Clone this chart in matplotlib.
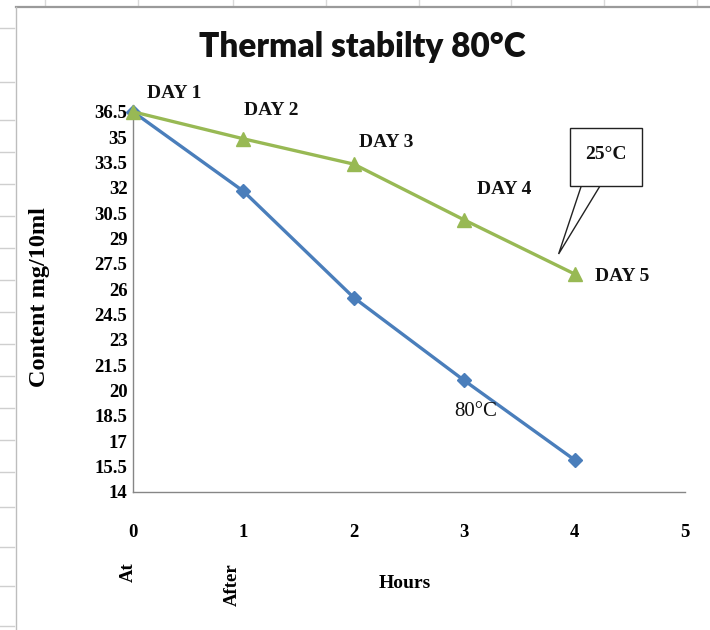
import matplotlib
matplotlib.use("Agg")
import matplotlib.pyplot as plt
from matplotlib.lines import Line2D
from matplotlib.patches import Polygon, Rectangle
from matplotlib.transforms import IdentityTransform

# ---- data -------------------------------------------------------------
hours = [0, 1, 2, 3, 4]
content_25c = [36.5, 34.9, 33.4, 30.1, 26.9]
content_80c = [36.5, 31.8, 25.5, 20.6, 15.9]
day_labels = ["DAY 1", "DAY 2", "DAY 3", "DAY 4", "DAY 5"]

y_ticks = [14, 15.5, 17, 18.5, 20, 21.5, 23, 24.5, 26, 27.5, 29, 30.5, 32, 33.5, 35, 36.5]
y_tick_labels = ["14", "15.5", "17", "18.5", "20", "21.5", "23", "24.5", "26",
                 "27.5", "29", "30.5", "32", "33.5", "35", "36.5"]
x_ticks = [0, 1, 2, 3, 4, 5]
x_tick_labels = ["0", "1", "2", "3", "4", "5"]

# ---- styling ----------------------------------------------------------
W, H = 710, 630
BLUE = "#4A7EBB"
GREEN = "#98B954"
SERIF = ["Liberation Serif", "DejaVu Serif"]
TITLE_FONT = ["Lato", "DejaVu Sans"]


def fx(px):
    return px / W


def fy(py):
    return 1 - py / H


fig = plt.figure(figsize=(W / 100, H / 100), dpi=100)
fig.patch.set_facecolor("white")

# spreadsheet cell grid peeking around the chart frame
for gx in [45, 138, 233, 326, 419, 511, 604, 697]:
    fig.add_artist(Line2D([fx(gx), fx(gx)], [fy(0), fy(6)], color="#d9d9d9", lw=1))
for gy in [28, 82, 120, 152, 184, 216, 248, 280, 312, 344, 376, 408, 440, 472, 507, 547, 586, 626]:
    fig.add_artist(Line2D([fx(0), fx(14)], [fy(gy), fy(gy)], color="#cfcfcf", lw=1))

# chart-area frame
fig.add_artist(Line2D([fx(16), fx(710)], [fy(7), fy(7)], color="#9a9a9a", lw=1.6))
fig.add_artist(Line2D([fx(16), fx(16)], [fy(7), fy(630)], color="#bdbdbd", lw=1))

ax = fig.add_axes([fx(133), fy(492), fx(685) - fx(133), fy(105) - fy(492)])
ax.set_facecolor("white")
ax.set_xlim(0, 5)
ax.set_ylim(14, 36.9)

for side in ("top", "right"):
    ax.spines[side].set_visible(False)
for side in ("left", "bottom"):
    ax.spines[side].set_color("#868686")
    ax.spines[side].set_linewidth(1.0)

ax.set_yticks(y_ticks)
ax.set_yticklabels(y_tick_labels)
ax.set_xticks(x_ticks)
ax.set_xticklabels(x_tick_labels)
ax.tick_params(axis="y", length=0, pad=4)
ax.tick_params(axis="x", length=0, pad=23)
for lab in ax.get_xticklabels() + ax.get_yticklabels():
    lab.set_fontfamily(SERIF)
    lab.set_fontweight("bold")
    lab.set_fontsize(13.5)

# series
ax.plot(hours, content_80c, color=BLUE, lw=2.4, marker="D", ms=7,
        mfc=BLUE, mec=BLUE, clip_on=False, zorder=3)
ax.plot(hours, content_25c, color=GREEN, lw=2.4, marker="^", ms=10,
        mfc=GREEN, mec=GREEN, clip_on=False, zorder=4)

# day labels on the 25 °C series
day_offsets = [(41, 18), (28, 28), (32, 22), (40, 30), (48, -3)]
for xv, yv, lab, off in zip(hours, content_25c, day_labels, day_offsets):
    ax.annotate(lab, (xv, yv), xytext=off, textcoords="offset pixels",
                ha="center", va="center", fontsize=14, fontweight="bold",
                family=SERIF, color="#111111", annotation_clip=False)

# series name for 80 °C
ax.annotate("80°C", (hours[3], content_80c[3]), xytext=(11, -31),
            textcoords="offset pixels", ha="center", va="center",
            fontsize=15, family=SERIF, color="#111111")

# rectangular callout naming the 25 °C series, anchored to its last point
ax_px = ax.transData.transform((hours[4], content_25c[4]))
ox, oy = ax_px
disp = IdentityTransform()
wedge = Polygon([(ox + 7, oy + 89), (ox - 16, oy + 20), (ox + 26, oy + 89)],
                closed=False, fc="white", ec="#222222", lw=1.0,
                transform=disp, zorder=6)
box = Rectangle((ox - 5, oy + 88), 72, 58, fc="white", ec="#222222", lw=1.0,
                transform=disp, zorder=7)
fig.add_artist(wedge)
fig.add_artist(box)
fig.text((ox + 31) / W, (oy + 119) / H, "25°C", ha="center", va="center",
         fontsize=14, fontweight="bold", family=SERIF, color="#111111", zorder=8)

# axis titles
ax.text(fx(40), fy(297), "Content mg/10ml", transform=fig.transFigure,
        rotation=90, ha="center", va="center", fontsize=17.5,
        fontweight="bold", family=SERIF)
ax.text(fx(405), fy(583), "Hours", transform=fig.transFigure,
        ha="center", va="center", fontsize=14, fontweight="bold", family=SERIF)
ax.text(fx(128), fy(572), "At", transform=fig.transFigure, rotation=90,
        ha="center", va="center", fontsize=13.5, fontweight="bold", family=SERIF)
ax.text(fx(232), fy(585), "After", transform=fig.transFigure, rotation=90,
        ha="center", va="center", fontsize=13.5, fontweight="bold", family=SERIF)

# chart title
fig.text(fx(362), fy(57), "Thermal stabilty 80°C", ha="center", va="baseline",
         fontsize=24, fontweight="heavy", family=TITLE_FONT, color="#111111")

fig.savefig("out.png", dpi=100, facecolor="white")
